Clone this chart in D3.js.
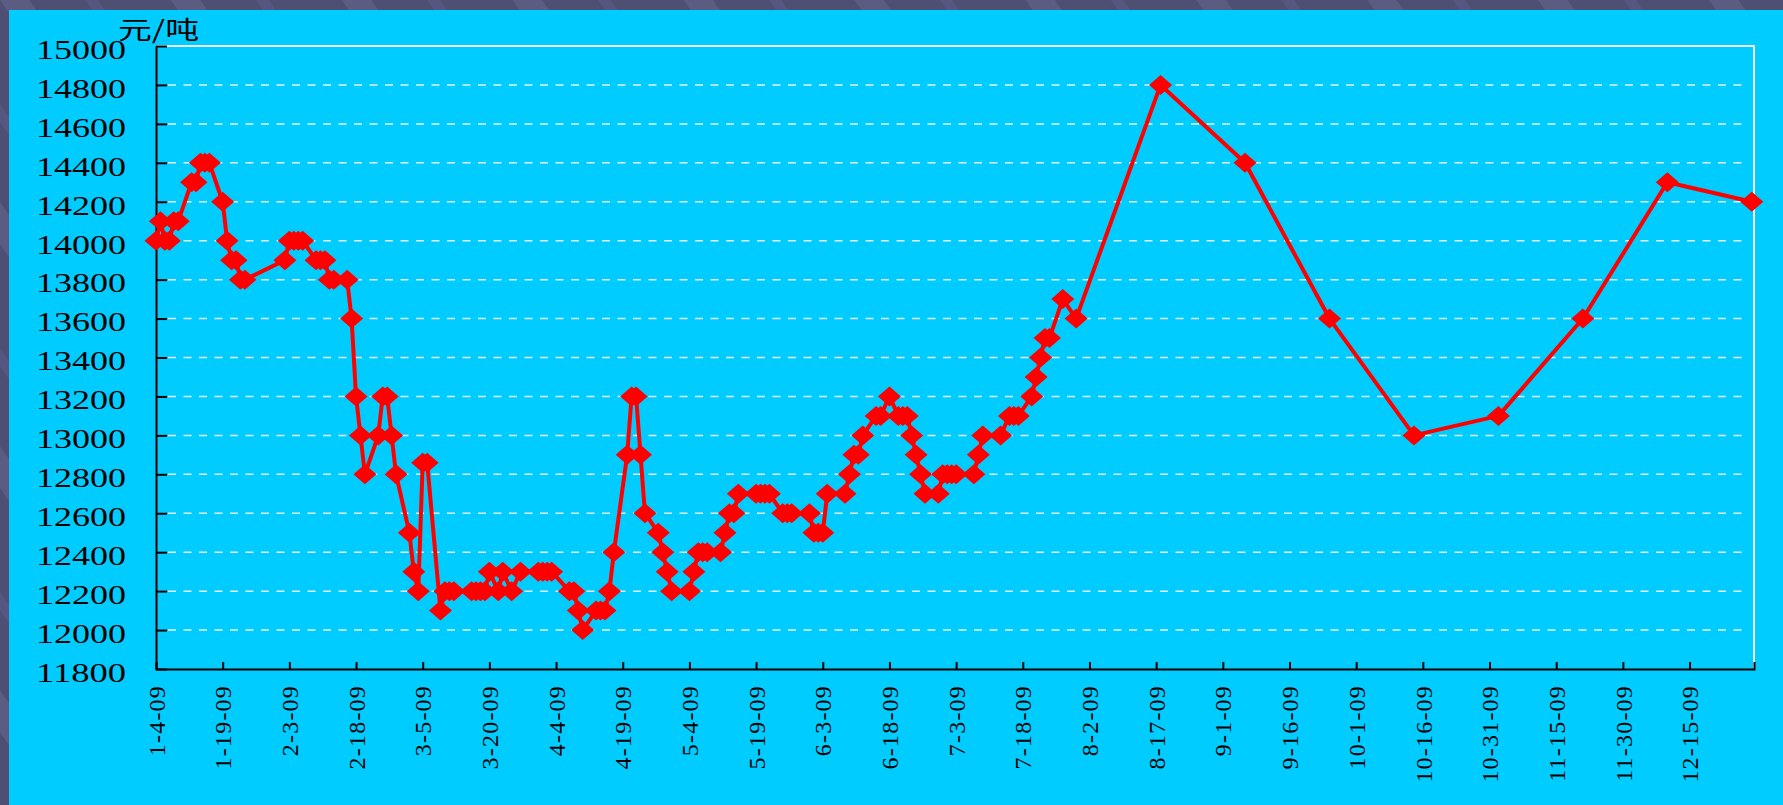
<!DOCTYPE html>
<html>
<head>
<meta charset="utf-8">
<script src="https://cdn.jsdelivr.net/npm/d3@7"></script>
<style>
  body { margin: 0; background: #4d4f73; }
  svg { display: block; }
</style>
</head>
<body>
<div id="chart"></div>
<script>
// price series (元/吨), dates
var dates = [
  "2009-01-04", "2009-01-05", "2009-01-06", "2009-01-07", "2009-01-08", "2009-01-09",
  "2009-01-12", "2009-01-13", "2009-01-14", "2009-01-15", "2009-01-16",
  "2009-01-19", "2009-01-20", "2009-01-21", "2009-01-22", "2009-01-23", "2009-01-24",
  "2009-02-02", "2009-02-03", "2009-02-04", "2009-02-05", "2009-02-06",
  "2009-02-09", "2009-02-10", "2009-02-11", "2009-02-12", "2009-02-13",
  "2009-02-16", "2009-02-17", "2009-02-18", "2009-02-19", "2009-02-20",
  "2009-02-23", "2009-02-24", "2009-02-25", "2009-02-26", "2009-02-27",
  "2009-03-02", "2009-03-03", "2009-03-04", "2009-03-05", "2009-03-06",
  "2009-03-09", "2009-03-10", "2009-03-11", "2009-03-12",
  "2009-03-16", "2009-03-17", "2009-03-18", "2009-03-19", "2009-03-20",
  "2009-03-22", "2009-03-23", "2009-03-25", "2009-03-27",
  "2009-03-31", "2009-04-01", "2009-04-02", "2009-04-03",
  "2009-04-07", "2009-04-08", "2009-04-09", "2009-04-10",
  "2009-04-13", "2009-04-14", "2009-04-15", "2009-04-16", "2009-04-17",
  "2009-04-20", "2009-04-21", "2009-04-22", "2009-04-23", "2009-04-24",
  "2009-04-27", "2009-04-28", "2009-04-29", "2009-04-30",
  "2009-05-04", "2009-05-05", "2009-05-06", "2009-05-07", "2009-05-08",
  "2009-05-11", "2009-05-12", "2009-05-13", "2009-05-14", "2009-05-15",
  "2009-05-19", "2009-05-20", "2009-05-21", "2009-05-22",
  "2009-05-25", "2009-05-26", "2009-05-27", "2009-05-31",
  "2009-06-01", "2009-06-02", "2009-06-03", "2009-06-04",
  "2009-06-08", "2009-06-09", "2009-06-10", "2009-06-11", "2009-06-12",
  "2009-06-15", "2009-06-16", "2009-06-18", "2009-06-20", "2009-06-21",
  "2009-06-22", "2009-06-23", "2009-06-24", "2009-06-25", "2009-06-26",
  "2009-06-29", "2009-06-30", "2009-07-01", "2009-07-02", "2009-07-03",
  "2009-07-07", "2009-07-08", "2009-07-09", "2009-07-13",
  "2009-07-15", "2009-07-16", "2009-07-17",
  "2009-07-20", "2009-07-21", "2009-07-22", "2009-07-23", "2009-07-24",
  "2009-07-27", "2009-07-30",
  "2009-08-18", "2009-09-06", "2009-09-25", "2009-10-14",
  "2009-11-02", "2009-11-21", "2009-12-10", "2009-12-29"
];
var prices = [
  14000, 14100, 14000, 14000, 14100, 14100,
  14300, 14300, 14400, 14400, 14400,
  14200, 14000, 13900, 13900, 13800, 13800,
  13900, 14000, 14000, 14000, 14000,
  13900, 13900, 13900, 13800, 13800,
  13800, 13600, 13200, 13000, 12800,
  13000, 13200, 13200, 13000, 12800,
  12500, 12300, 12200, 12860, 12860,
  12100, 12200, 12200, 12200,
  12200, 12200, 12200, 12200, 12300,
  12200, 12300, 12200, 12300,
  12300, 12300, 12300, 12300,
  12200, 12200, 12100, 12000,
  12100, 12100, 12100, 12200, 12400,
  12900, 13200, 13200, 12900, 12600,
  12500, 12400, 12300, 12200,
  12200, 12300, 12400, 12400, 12400,
  12400, 12500, 12600, 12600, 12700,
  12700, 12700, 12700, 12700,
  12600, 12600, 12600, 12600,
  12500, 12500, 12500, 12700,
  12700, 12800, 12900, 12900, 13000,
  13100, 13100, 13200, 13100, 13100,
  13100, 13000, 12900, 12800, 12700,
  12700, 12800, 12800, 12800, 12800,
  12800, 12900, 13000, 13000,
  13100, 13100, 13100,
  13200, 13300, 13400, 13500, 13500,
  13700, 13600,
  14800, 14400, 13600, 13000,
  13100, 13600, 14300, 14200
];
var xTickLabels = ["1-4-09", "1-19-09", "2-3-09", "2-18-09", "3-5-09", "3-20-09",
  "4-4-09", "4-19-09", "5-4-09", "5-19-09", "6-3-09", "6-18-09", "7-3-09",
  "7-18-09", "8-2-09", "8-17-09", "9-1-09", "9-16-09", "10-1-09", "10-16-09",
  "10-31-09", "11-15-09", "11-30-09", "12-15-09"];
var yTickValues = [11800, 12000, 12200, 12400, 12600, 12800, 13000, 13200, 13400,
  13600, 13800, 14000, 14200, 14400, 14600, 14800, 15000];
var unitLabel = "元/吨";

var W = 1783, H = 805;
var plot = { left: 156, top: 46, right: 1754, bottom: 669 };

var parseDate = d3.timeParse("%Y-%m-%d"),
    parseTick = d3.timeParse("%m-%d-%y");

var data = dates.map(function(d, i) { return { t: parseDate(d), v: prices[i] }; });
var tickDates = xTickLabels.map(function(s) { return parseTick(s); });

var svg = d3.select("#chart").append("svg")
  .attr("width", W)
  .attr("height", H);

// outer slide background with a few faint diagonal streaks
var defs = svg.append("defs");
var pat = defs.append("pattern")
  .attr("id", "streaks")
  .attr("patternUnits", "userSpaceOnUse")
  .attr("width", 140).attr("height", 140)
  .attr("patternTransform", "rotate(-35)");
pat.append("rect").attr("width", 140).attr("height", 140).attr("fill", "#4d4f73");
pat.append("rect").attr("x", 0).attr("width", 24).attr("height", 140).attr("fill", "#5a5c82");
pat.append("rect").attr("x", 70).attr("width", 10).attr("height", 140).attr("fill", "#555780");
svg.append("rect").attr("width", W).attr("height", H).attr("fill", "url(#streaks)");

// cyan chart panel
svg.append("rect")
  .attr("x", 9).attr("y", 10)
  .attr("width", W - 9).attr("height", H - 10)
  .attr("fill", "#00ccff");

// scales
var x = d3.scaleTime()
  .domain([data[0].t, d3.timeHour.offset(data[data.length - 1].t, 12)])
  .range([plot.left, plot.right]);
var y = d3.scaleLinear()
  .domain([yTickValues[0], yTickValues[yTickValues.length - 1]])
  .range([plot.bottom, plot.top]);

// dashed grid lines
svg.append("g")
  .selectAll("line")
  .data(yTickValues.slice(1, -1))
  .enter()
  .append("line")
  .attr("x1", plot.left + 12)
  .attr("x2", plot.right - 8)
  .attr("y1", function(d) { return y(d); })
  .attr("y2", function(d) { return y(d); })
  .attr("stroke", "#dff4fb")
  .attr("stroke-width", 1.5)
  .attr("stroke-dasharray", "8 7.5");

// white frame (top and right)
svg.append("path")
  .attr("d", "M" + plot.left + "," + y(15000) + "H" + plot.right + "V" + plot.bottom)
  .attr("fill", "none")
  .attr("stroke", "#eefaff")
  .attr("stroke-width", 2);

// X axis
var xAxis = svg.append("g")
  .attr("transform", "translate(0," + plot.bottom + ")")
  .call(d3.axisBottom(x)
    .tickValues(tickDates)
    .tickFormat(function(d, i) { return xTickLabels[i]; })
    .tickSizeInner(-7)
    .tickSizeOuter(-7));
xAxis.select(".domain").attr("stroke", "#000").attr("stroke-width", 2);
xAxis.selectAll(".tick line").attr("stroke", "#000").attr("stroke-width", 2);
xAxis.selectAll(".tick text")
  .attr("transform", "rotate(-90)")
  .attr("x", -16)
  .attr("y", 0)
  .attr("dy", "0.34em")
  .attr("text-anchor", "end")
  .attr("fill", "#000")
  .style("font-family", "'Liberation Serif', 'DejaVu Serif', serif")
  .style("font-size", "24px")
  .style("letter-spacing", "1.2px");

// Y axis
var yAxis = svg.append("g")
  .attr("transform", "translate(" + plot.left + ",0)")
  .call(d3.axisLeft(y)
    .tickValues(yTickValues)
    .tickFormat(d3.format("d"))
    .tickSizeInner(-11)
    .tickSizeOuter(0)
    .tickPadding(30));
yAxis.select(".domain").attr("stroke", "#000").attr("stroke-width", 2);
yAxis.selectAll(".tick line").attr("stroke", "#000").attr("stroke-width", 2);
yAxis.selectAll(".tick text")
  .attr("dy", "0.44em")
  .attr("fill", "#000")
  .attr("textLength", 90)
  .attr("lengthAdjust", "spacingAndGlyphs")
  .style("font-family", "'Liberation Serif', 'DejaVu Serif', serif")
  .style("font-size", "28px");

// unit label
svg.append("text")
  .attr("x", 118)
  .attr("y", 39)
  .attr("textLength", 81)
  .attr("lengthAdjust", "spacingAndGlyphs")
  .style("font-family", "'Noto Sans CJK SC', sans-serif")
  .style("font-size", "25px")
  .attr("fill", "#000")
  .text(unitLabel);

// price line
svg.append("path")
  .datum(data)
  .attr("fill", "none")
  .attr("stroke", "#ff0000")
  .attr("stroke-width", 4)
  .attr("stroke-linejoin", "round")
  .attr("d", d3.line()
    .x(function(d) { return x(d.t); })
    .y(function(d) { return y(d.v); }));

// diamond markers
var hw = 11.5, hh = 10;
svg.append("g")
  .selectAll("path")
  .data(data)
  .enter()
  .append("path")
  .attr("transform", function(d) { return "translate(" + x(d.t) + "," + y(d.v) + ")"; })
  .attr("d", "M0," + (-hh) + "L" + hw + ",0L0," + hh + "L" + (-hw) + ",0Z")
  .attr("fill", "#ff0000");
</script>
</body>
</html>
